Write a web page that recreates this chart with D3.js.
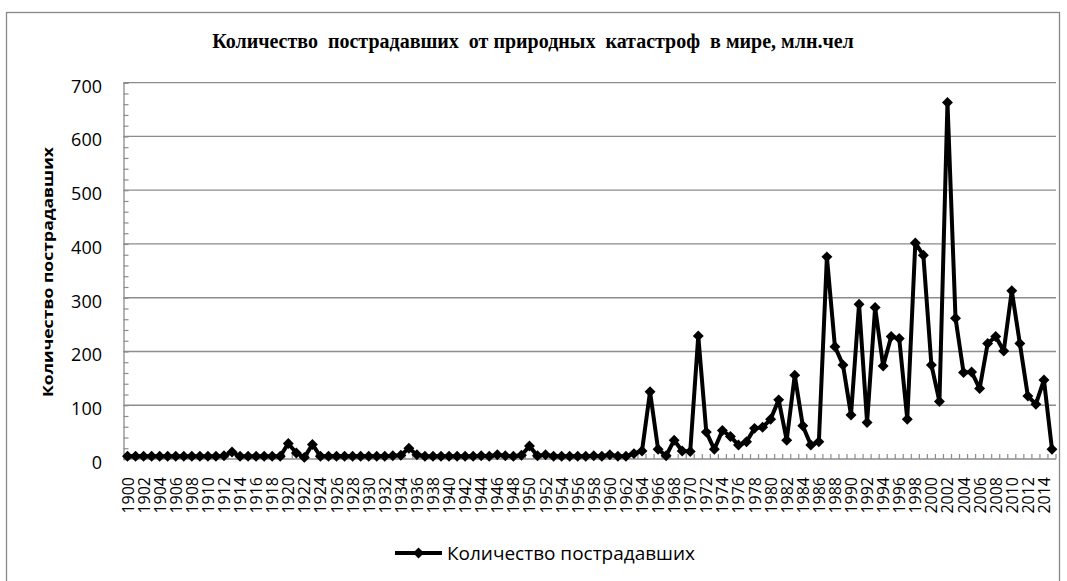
<!DOCTYPE html>
<html>
<head>
<meta charset="utf-8">
<script src="https://cdn.jsdelivr.net/npm/d3@7"></script>
<style>
  body { margin: 0; background: #fff; }
  svg { display: block; }
</style>
</head>
<body>
<svg></svg>
<script>
// categories: one per year, 1900..2015 (labels shown every other year)
let years = d3.range(1900, 2016);

// people affected, millions
let values = [
  5, 5, 5, 5, 5, 5, 5, 5, 5, 5,          // 1900-1909
  5, 5, 6, 13, 5, 5, 5, 5, 5, 5,         // 1910-1919
  29, 11, 3, 27, 5, 5, 5, 5, 5, 5,       // 1920-1929
  5, 5, 5, 6, 7, 20, 8, 5, 5, 5,         // 1930-1939
  5, 5, 5, 5, 6, 5, 8, 6, 5, 7,          // 1940-1949
  24, 6, 8, 5, 5, 5, 5, 5, 6, 5,         // 1950-1959
  8, 5, 5, 10, 15, 125, 18, 6, 35, 15,   // 1960-1969
  14, 229, 50, 18, 53, 42, 26, 32, 57, 59, // 1970-1979
  74, 110, 35, 156, 62, 26, 32, 376, 209, 175, // 1980-1989
  82, 288, 68, 282, 173, 228, 224, 74, 402, 379, // 1990-1999
  175, 107, 663, 262, 161, 162, 131, 215, 228, 201, // 2000-2009
  313, 215, 117, 102, 147, 18            // 2010-2015
];

let yTicks = [0, 100, 200, 300, 400, 500, 600, 700];
let xLabels = years.filter((y) => (y - 1900) % 2 === 0);

let chartTitle = "Количество  пострадавших  от природных  катастроф  в мире, млн.чел";
let yTitle = "Количество  пострадавших";
let seriesName = "Количество пострадавших";

let width = 1067;
let height = 581;
let plotLeft = 123.5;
let plotRight = 1056;
let plotTop = 82.7;
let plotBottom = 459;

let gridColor = "#8c8c8c";
let sans = "'Open Sans', 'Noto Sans', sans-serif";

let svg = d3.select("svg")
    .attr("width", width)
    .attr("height", height);

let xScale = d3.scalePoint()
    .domain(years)
    .range([plotLeft, plotRight])
    .padding(0.5);

let yScale = d3.scaleLinear()
    .domain([0, 700])
    .range([plotBottom, plotTop]);

let step = xScale.step();

// outer chart border
svg.append("rect")
    .attr("x", 6.5)
    .attr("y", 12.5)
    .attr("width", 1053)
    .attr("height", 600)
    .attr("fill", "none")
    .attr("stroke", "#888")
    .attr("stroke-width", 1.3);

// title
svg.append("text")
    .attr("x", 533)
    .attr("y", 48)
    .attr("text-anchor", "middle")
    .attr("font-family", "'Liberation Serif', serif")
    .attr("font-weight", "bold")
    .attr("font-size", 20)
    .style("white-space", "pre")
    .text(chartTitle);

// horizontal gridlines
svg.append("g")
    .selectAll("line")
    .data(yTicks.filter((d) => d > 0))
    .enter()
    .append("line")
    .attr("x1", plotLeft)
    .attr("x2", plotRight)
    .attr("y1", (d) => yScale(d))
    .attr("y2", (d) => yScale(d))
    .attr("stroke", gridColor)
    .attr("stroke-width", 1.3);

// y axis with minor inside ticks every 20
let yAxis = d3.axisRight(yScale)
    .tickValues(d3.range(0, 701, 20))
    .tickSize(5)
    .tickFormat("");

let yAxisG = svg.append("g")
    .attr("transform", "translate(" + plotLeft + ",0)")
    .call(yAxis);
yAxisG.select(".domain").attr("stroke", gridColor).attr("stroke-width", 1.3);
yAxisG.selectAll(".tick line").attr("stroke", gridColor).attr("stroke-width", 1.2);

// y tick labels
svg.append("g")
    .selectAll("text")
    .data(yTicks)
    .enter()
    .append("text")
    .attr("x", 102)
    .attr("y", (d) => yScale(d) + 3)
    .attr("text-anchor", "end")
    .attr("dominant-baseline", "central")
    .attr("font-family", sans)
    .attr("font-size", 18)
    .attr("fill", "#000")
    .text((d) => d);

// y axis title
svg.append("text")
    .attr("transform", "translate(53," + 272 + ") rotate(-90)")
    .attr("text-anchor", "middle")
    .attr("font-family", sans)
    .attr("font-weight", "bold")
    .attr("font-size", 15)
    .attr("textLength", 250)
    .attr("lengthAdjust", "spacingAndGlyphs")
    .text(yTitle);

// x axis line and category ticks (pointing up, between categories)
svg.append("line")
    .attr("x1", plotLeft)
    .attr("x2", plotRight)
    .attr("y1", plotBottom)
    .attr("y2", plotBottom)
    .attr("stroke", gridColor)
    .attr("stroke-width", 1.3);

svg.append("g")
    .selectAll("line")
    .data(years)
    .enter()
    .append("line")
    .attr("x1", (d) => xScale(d) + step / 2)
    .attr("x2", (d) => xScale(d) + step / 2)
    .attr("y1", plotBottom)
    .attr("y2", plotBottom - 5)
    .attr("stroke", gridColor)
    .attr("stroke-width", 1.2);

// x labels, rotated
svg.append("g")
    .selectAll("text")
    .data(xLabels)
    .enter()
    .append("text")
    .attr("transform", (d) => "translate(" + xScale(d) + "," + 477 + ") rotate(-90)")
    .attr("text-anchor", "end")
    .attr("dominant-baseline", "central")
    .attr("font-family", sans)
    .attr("font-size", 16)
    .attr("fill", "#000")
    .text((d) => d);

// series line
let line = d3.line()
    .x((d, i) => xScale(years[i]))
    .y((d) => yScale(d));

svg.append("path")
    .datum(values)
    .attr("d", line)
    .attr("fill", "none")
    .attr("stroke", "#000")
    .attr("stroke-width", 4)
    .attr("stroke-linejoin", "round");

// diamond markers
let diamond = d3.symbol().type(d3.symbolSquare).size(60);

svg.append("g")
    .selectAll("path")
    .data(values)
    .enter()
    .append("path")
    .attr("d", diamond)
    .attr("transform", (d, i) => "translate(" + xScale(years[i]) + "," + yScale(d) + ") rotate(45)")
    .attr("fill", "#000");

// legend
let legendY = 553;
svg.append("line")
    .attr("x1", 395)
    .attr("x2", 442)
    .attr("y1", legendY)
    .attr("y2", legendY)
    .attr("stroke", "#000")
    .attr("stroke-width", 4);

svg.append("path")
    .attr("d", diamond)
    .attr("transform", "translate(418.5," + legendY + ") rotate(45)")
    .attr("fill", "#000");

svg.append("text")
    .attr("x", 447)
    .attr("y", legendY)
    .attr("dominant-baseline", "central")
    .attr("font-family", sans)
    .attr("font-size", 18)
    .attr("textLength", 248)
    .attr("lengthAdjust", "spacingAndGlyphs")
    .text(seriesName);
</script>
</body>
</html>
